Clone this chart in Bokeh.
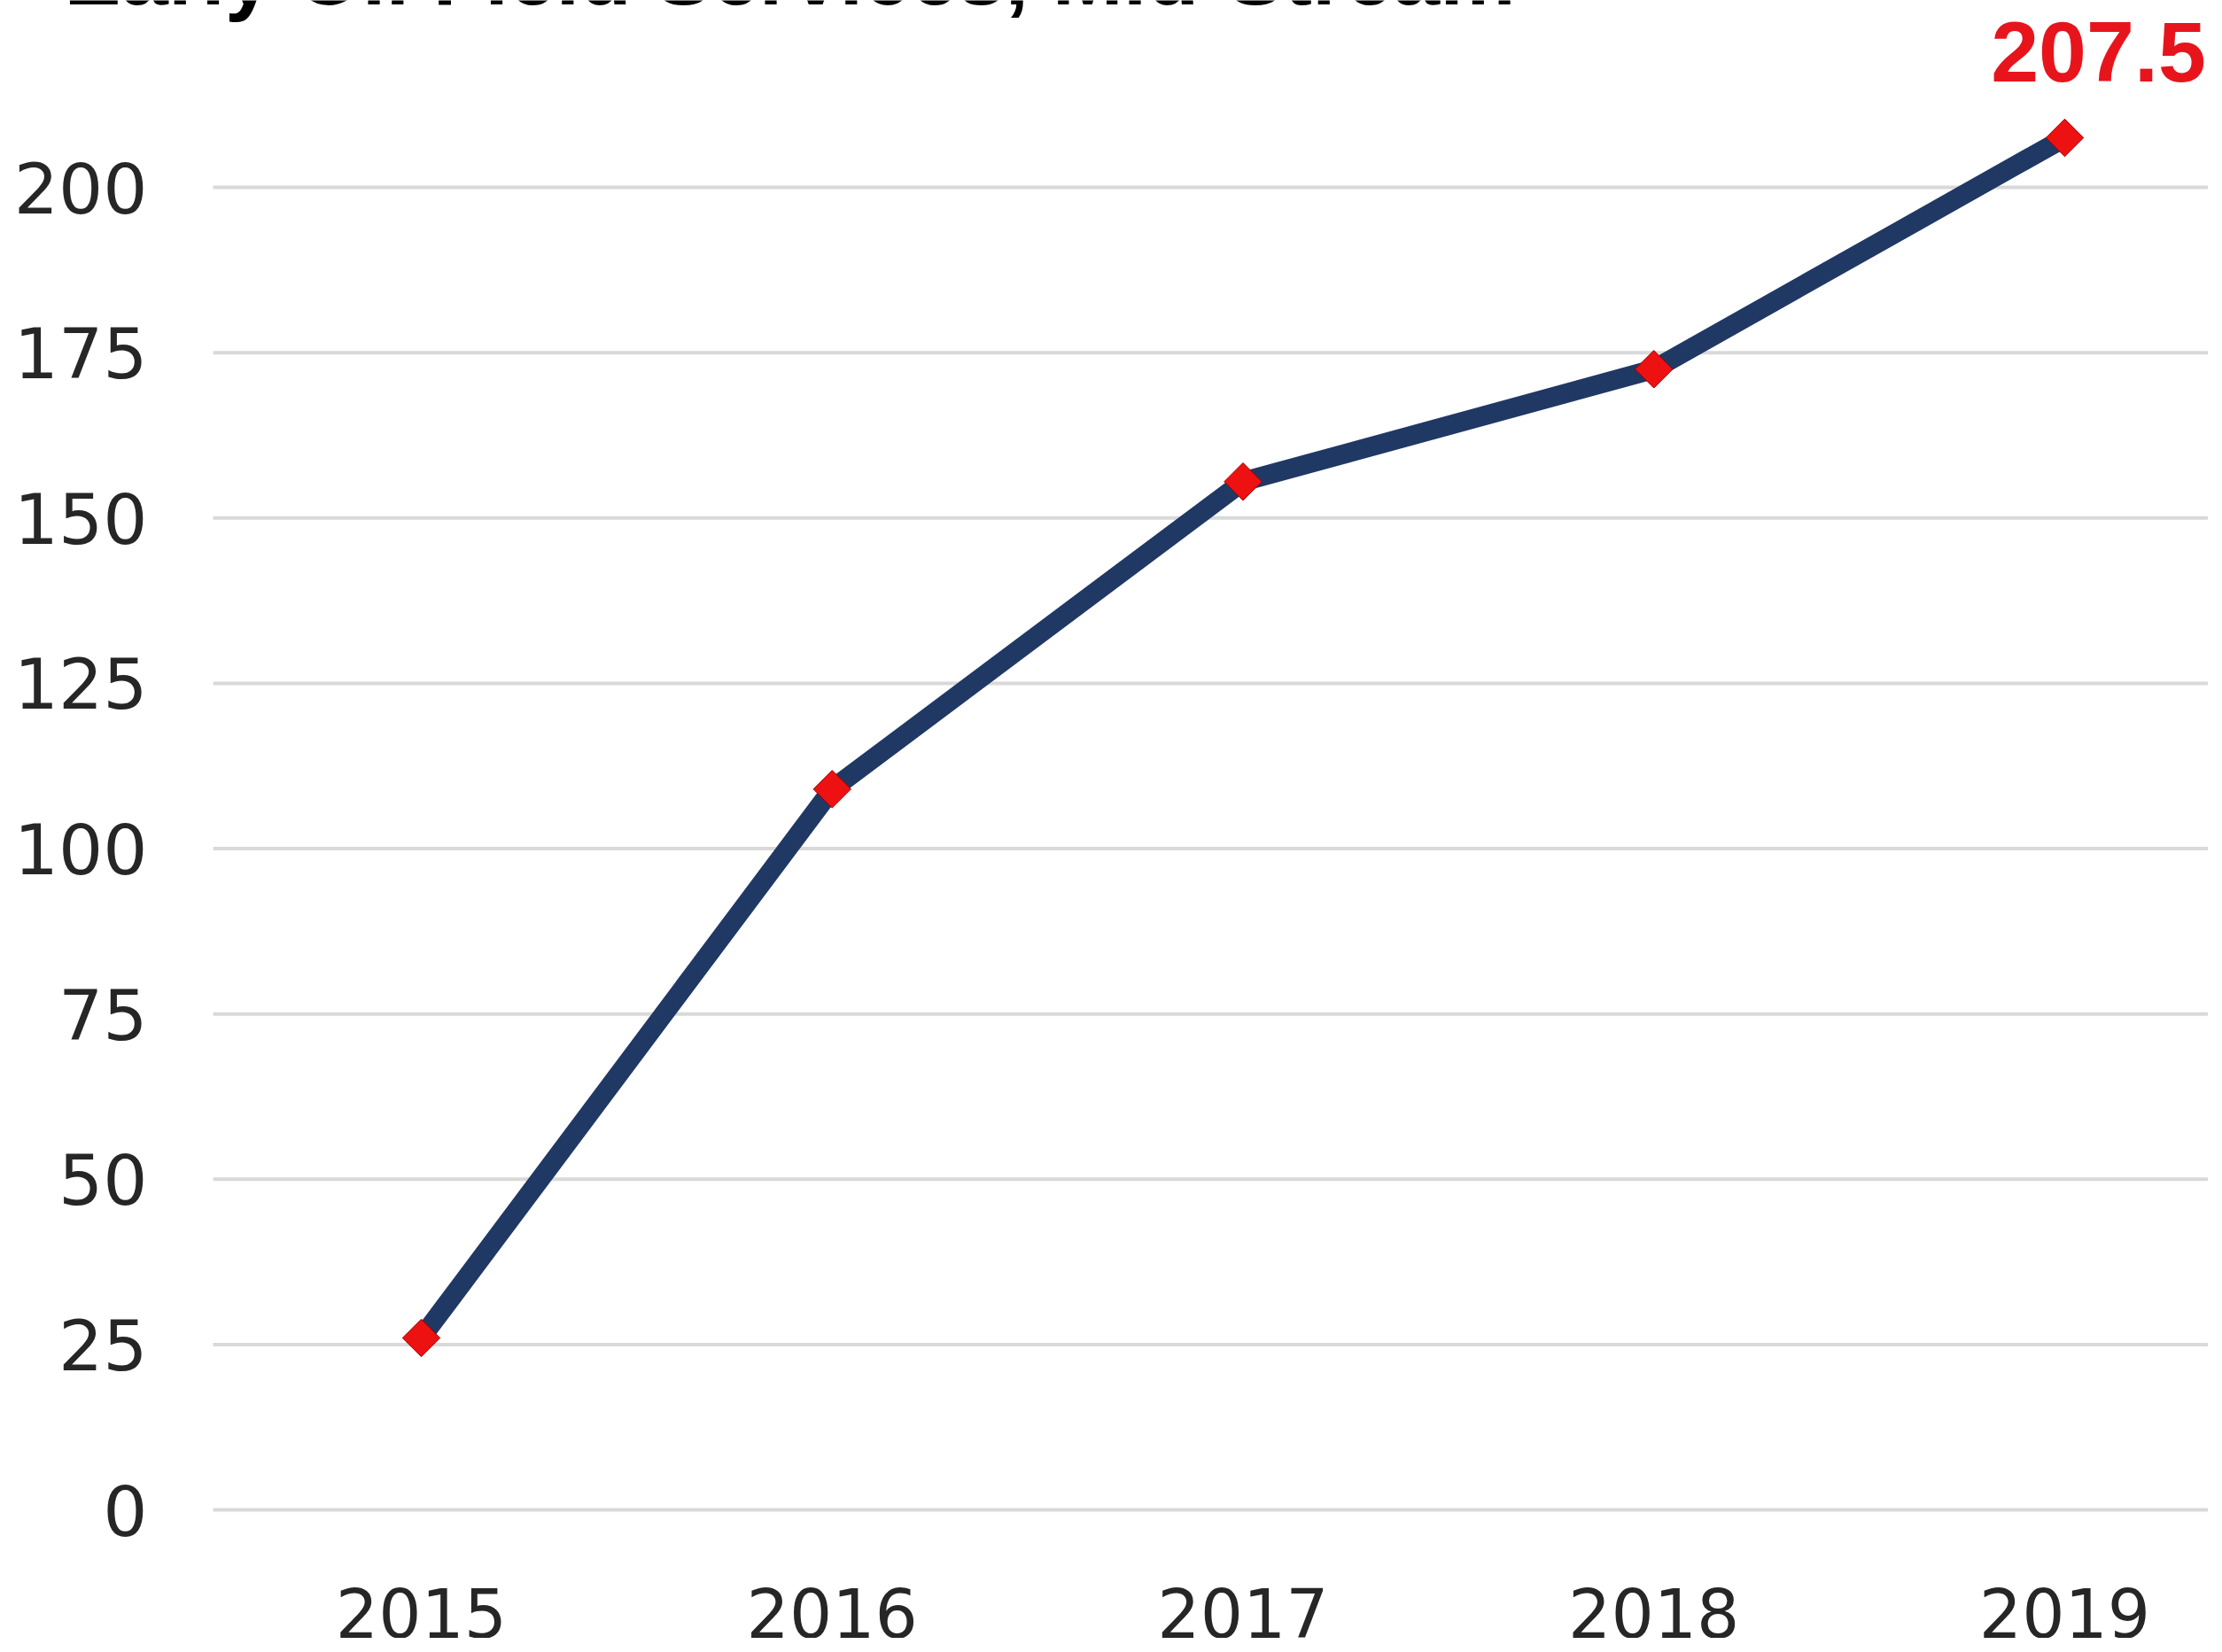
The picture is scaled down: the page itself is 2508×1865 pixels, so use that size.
from bokeh.plotting import figure
from bokeh.models import ColumnDataSource, LabelSet, Label, Range1d
from bokeh.core.properties import value
from bokeh.embed import file_html
from bokeh.resources import INLINE

years = [2015, 2016, 2017, 2018, 2019]
year_labels = ["2015", "2016", "2017", "2018", "2019"]
values = [26.0, 109.0, 155.5, 172.5, 207.5]
y_ticks = [0, 25, 50, 75, 100, 125, 150, 175, 200]
y_tick_labels = ["0", "25", "50", "75", "100", "125", "150", "175", "200"]
title_text = "Early Oil Field Services, Mid-Stream"
last_label = ["", "", "", "", "207.5"]

X_START, X_END = 2013.9757, 2019.3493
Y_START, Y_END = -19.42, 228.27
GRID_X0 = 2014.4933  # left end of the gridlines (plot area edge)

src = ColumnDataSource(dict(x=years, y=values, lab=last_label))
xlab_src = ColumnDataSource(dict(x=years, y=[0] * len(years), lab=year_labels))
grid_src = ColumnDataSource(dict(x0=[GRID_X0] * len(y_ticks), x1=[X_END] * len(y_ticks),
                                 y=y_ticks, lab=y_tick_labels))

p = figure(width=2492, height=1849, output_backend="svg", toolbar_location=None,
           x_range=Range1d(X_START, X_END), y_range=Range1d(Y_START, Y_END),
           min_border_left=0, min_border_right=0, min_border_top=0, min_border_bottom=0)
p.outline_line_color = None
p.background_fill_color = "white"
p.border_fill_color = "white"
p.xaxis.visible = False
p.yaxis.visible = False
p.xgrid.visible = False
p.ygrid.visible = False

# horizontal gridlines at the y ticks
p.segment(x0="x0", y0="y", x1="x1", y1="y", source=grid_src,
          line_color="#d9d9d9", line_width=4)

p.line("x", "y", source=src, line_color="#203864", line_width=22)
p.scatter("x", "y", source=src, marker="square", size=30, angle=0.785398,
          fill_color="#ee1111", line_color="#a00000", line_width=1)

ylabels = LabelSet(x="x0", y="y", text="lab", source=grid_src, x_offset=-74,
                   text_align="right", text_baseline="middle",
                   text_font=value("DejaVu Sans"), text_font_size="79px",
                   text_color="#262626")
p.add_layout(ylabels)

xlabels = LabelSet(x="x", y="y", text="lab", source=xlab_src, y_offset=-144,
                   text_align="center", text_baseline="alphabetic",
                   text_font=value("DejaVu Sans"), text_font_size="76px",
                   text_color="#262626")
p.add_layout(xlabels)

labels = LabelSet(x="x", y="y", text="lab", source=src, x_offset=38, y_offset=64,
                  text_align="center", text_baseline="alphabetic",
                  text_font=value("Liberation Sans"), text_font_style="bold",
                  text_font_size="97px", text_color="#e8141c")
p.add_layout(labels)

title = Label(x=2014.131, y=232.1, text=title_text, text_font="Liberation Sans",
              text_font_style="bold", text_font_size="96px", text_color="#000000",
              text_baseline="alphabetic", text_align="left")
p.add_layout(title)

open("out.html", "w").write(file_html(p, INLINE))
